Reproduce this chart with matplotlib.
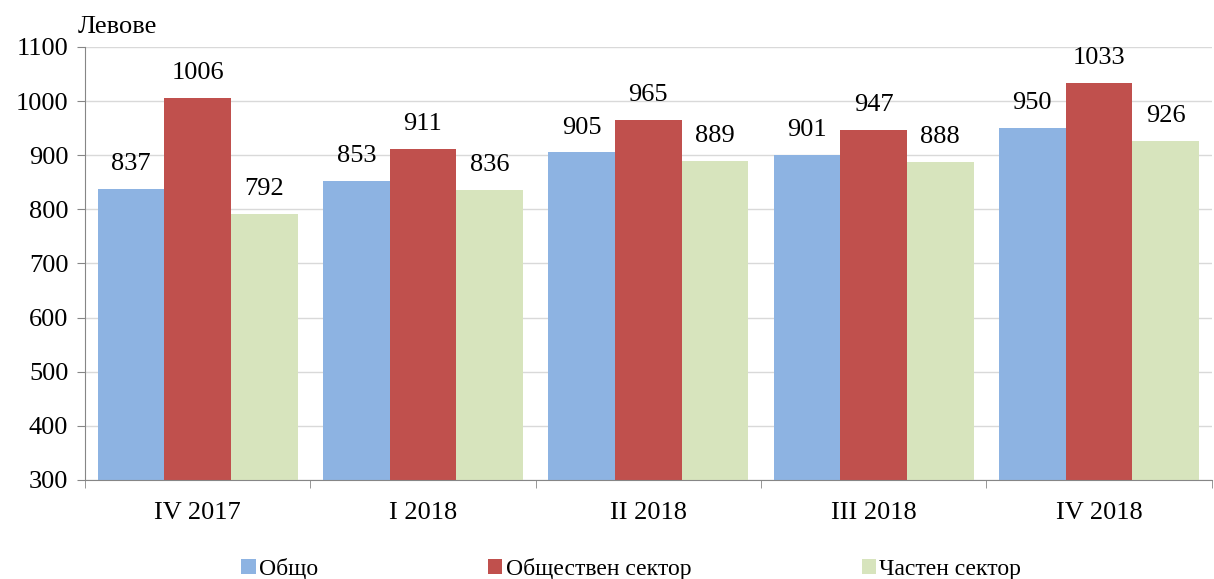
import numpy as np
import matplotlib.pyplot as plt

categories = ['IV 2017', 'I 2018', 'II 2018', 'III 2018', 'IV 2018']
total = [837, 853, 905, 901, 950]
public = [1006, 911, 965, 947, 1033]
private = [792, 836, 889, 888, 926]
series_names = ['Общо', 'Обществен сектор', 'Частен сектор']

colors = ['#8DB3E2', '#C0504D', '#D7E4BD']

plt.rcParams['font.family'] = ['Liberation Serif', 'DejaVu Serif']

fig = plt.figure(figsize=(12.14, 5.79), dpi=100)
ax = fig.add_axes([0.070, 0.171, 0.928, 0.748])

x = np.arange(len(categories))
w = 0.296
for i, (vals, name) in enumerate(zip([total, public, private], series_names)):
    bars = ax.bar(x + (i - 1) * w, vals, width=w, color=colors[i], label=name,
                  bottom=0, zorder=2)
    for b, v in zip(bars, vals):
        ax.annotate(str(v), (b.get_x() + b.get_width() / 2, v),
                    xytext=(0, 10), textcoords='offset points',
                    ha='center', va='bottom', fontsize=19)

ax.set_ylim(300, 1100)
ax.set_xlim(-0.5, len(categories) - 0.5)
ax.set_yticks(range(300, 1101, 100))
ax.tick_params(axis='y', labelsize=19, length=6, color='#868686', pad=6)
ax.set_xticks(x)
ax.set_xticklabels(categories, fontsize=19)
ax.tick_params(axis='x', length=0, pad=16)
ax.set_xticks(np.arange(-0.5, len(categories)), minor=True)
ax.tick_params(axis='x', which='minor', length=6, color='#868686', direction='out')
ax.grid(axis='y', color='#D9D9D9', linewidth=1, zorder=0)
for s in ['top', 'right']:
    ax.spines[s].set_visible(False)
for s in ['left', 'bottom']:
    ax.spines[s].set_color('#868686')

fig.text(0.064, 0.953, 'Левове', fontsize=19, va='center', ha='left')

fig.legend(loc='center', bbox_to_anchor=(0.52, 0.018), ncol=3, frameon=False,
           fontsize=17, handlelength=0.6, handleheight=0.6, handletextpad=0.15,
           columnspacing=7.2)

fig.savefig('out.png', dpi=100)
